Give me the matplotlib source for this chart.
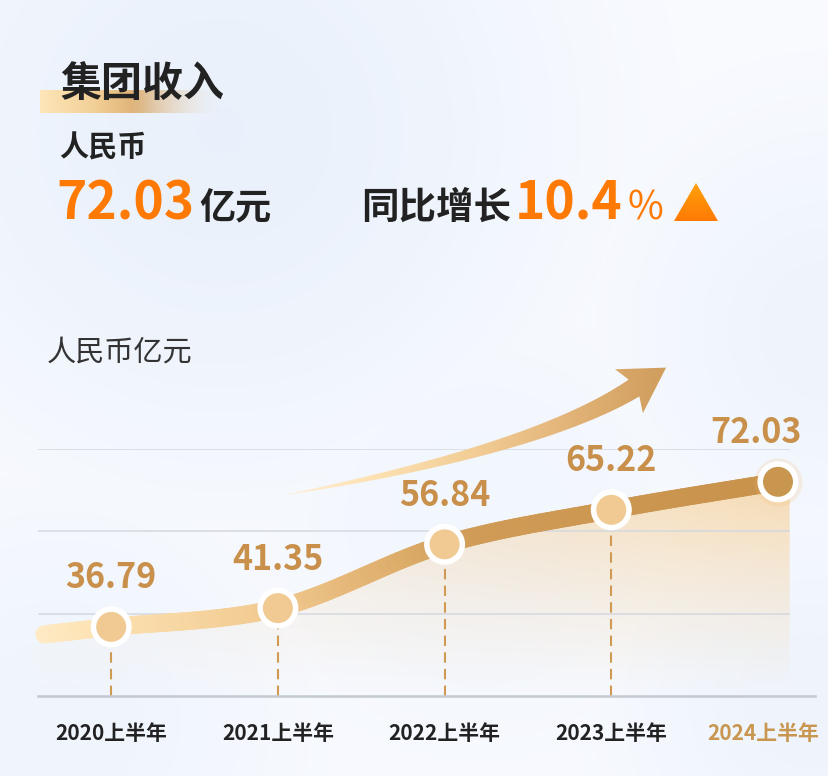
import numpy as np
import matplotlib
matplotlib.use('Agg')
import matplotlib.pyplot as plt
from matplotlib.collections import LineCollection
from matplotlib.colors import LinearSegmentedColormap
from matplotlib.patches import Polygon

plt.rcParams['font.family'] = ['Noto Sans CJK SC', 'DejaVu Sans']

# ---------------- data ----------------
periods = ['2020上半年', '2021上半年', '2022上半年', '2023上半年', '2024上半年']
revenue = [36.79, 41.35, 56.84, 65.22, 72.03]
title = '集团收入'
currency = '人民币'
headline_value = '72.03'
headline_unit = '亿元'
yoy_label = '同比增长'
yoy_value = '10.4'
yoy_unit = '%'
axis_unit = '人民币亿元'
y_grid = [40, 60, 80]
y_base = 20

W, H = 829, 776
fig = plt.figure(figsize=(W / 100, H / 100), dpi=100)


def fx(px):
    return px / W


def fy(py):
    return 1 - py / H


def px2pt(p):
    return p * 72 / 100


# ---------------- background ----------------
bg = fig.add_axes([0, 0, 1, 1], zorder=0)
bg.set_xlim(0, W)
bg.set_ylim(H, 0)
bg.axis('off')
yy, xx = np.mgrid[0:H, 0:W]
tint = np.zeros((H, W))
for cx, cy, r, s in [(220, 130, 250, 0.85), (830, 330, 170, 0.6), (60, 720, 190, 0.55),
                     (810, 700, 160, 0.6), (480, 520, 190, 0.45), (430, 40, 180, 0.35)]:
    tint = np.maximum(tint, s * np.exp(-((xx - cx) ** 2 + (yy - cy) ** 2) / (2 * r * r)))
base_c = np.array([251, 252, 255]) / 255
blue_c = np.array([231, 239, 251]) / 255
bg_img = base_c * (1 - tint[..., None]) + blue_c * tint[..., None]
bg.imshow(bg_img, extent=[0, W, H, 0], aspect='auto', interpolation='bilinear')

# heading accent bar
n = 300
gx = np.linspace(0, 1, n)
bar_cmap = LinearSegmentedColormap.from_list('bar', [(0, '#FDE6B8'), (0.3, '#F2CF96'),
                                                     (0.55, '#DCAF74'), (1, '#E8D2B5')])
bar = bar_cmap(gx)
bar[:, 3] = np.clip(np.where(gx < 0.5, 1.0, 1 - (gx - 0.5) / 0.5), 0, 1) ** 1.3
bg.imshow(bar[None, :, :], extent=[40, 222, 113, 90], aspect='auto', interpolation='bilinear')

# ---------------- header texts ----------------
dark = '#222222'
orange = '#FF7A05'
fig.text(fx(60), fy(97), title, fontsize=29.5, fontweight='bold', color=dark, va='baseline')
fig.text(fx(59), fy(157), currency, fontsize=21, fontweight='bold', color=dark, va='baseline')
fig.text(fx(56), fy(219), headline_value, fontsize=37, fontweight='bold', color=orange, va='baseline')
fig.text(fx(199), fy(219), headline_unit, fontsize=26, fontweight='bold', color=dark, va='baseline')
fig.text(fx(361), fy(219), yoy_label, fontsize=27, fontweight='bold', color=dark, va='baseline')
fig.text(fx(515), fy(219), yoy_value, fontsize=37, fontweight='bold', color=orange, va='baseline')
fig.text(fx(628), fy(220), yoy_unit, fontsize=28, fontweight='medium', color=orange, va='baseline')
fig.text(fx(47), fy(361), axis_unit, fontsize=21, fontweight='regular', color='#333333', va='baseline')

# ---------------- chart ----------------
ax = fig.add_axes([fx(38), fy(696), fx(815) - fx(38), fy(449) - fy(696)], zorder=1)
ax.patch.set_alpha(0)
xs = np.arange(len(revenue), dtype=float)
vals = np.array(revenue)
ax.set_xlim(-0.439, 4.222)
ax.set_ylim(y_base, 80)
for s in ['top', 'right', 'left']:
    ax.spines[s].set_visible(False)
ax.spines['bottom'].set_color('#C6CAD2')
ax.spines['bottom'].set_linewidth(1.9)
ax.set_xticks([])
ax.set_yticks([])


def catmull(px, py, n=40):
    P = np.column_stack([px, py])
    P = np.vstack([2 * P[0] - P[1], P, 2 * P[-1] - P[-2]])
    out = []
    t = np.linspace(0, 1, n, endpoint=False)[:, None]
    for i in range(1, len(P) - 2):
        p0, p1, p2, p3 = P[i - 1], P[i], P[i + 1], P[i + 2]
        seg = 0.5 * ((2 * p1) + (-p0 + p2) * t + (2 * p0 - 5 * p1 + 4 * p2 - p3) * t ** 2
                     + (-p0 + 3 * p1 - 3 * p2 + p3) * t ** 3)
        out.append(seg)
    out.append(P[-2][None, :])
    return np.vstack(out)


lead = 0.40
x_ext = np.concatenate([[xs[0] - lead], xs])
v_ext = np.concatenate([[vals[0] - lead * (vals[1] - vals[0])], vals])
curve = catmull(x_ext, v_ext)

# gradient fill under curve
xl = ax.get_xlim()
x_end = xs[-1] + 0.07
fill_verts = np.vstack([[xl[0], y_base], [xl[0], curve[0, 1]], curve,
                        [x_end, curve[-1, 1]], [x_end, y_base]])
poly = Polygon(fill_verts, closed=True, facecolor='none', edgecolor='none')
ax.add_patch(poly)
gxx, gyy = np.meshgrid(np.linspace(0, 1, 300), np.linspace(0, 1, 300))
fill_img = np.zeros((300, 300, 4))
fill_img[..., :3] = np.array([247, 210, 156]) / 255
fill_img[..., 3] = 0.8 * gyy ** 1.2 * (0.3 + 0.7 * gxx)
im = ax.imshow(fill_img, extent=[xl[0], xl[1], y_base, vals.max()], origin='lower',
               aspect='auto', interpolation='bilinear', zorder=1)
im.set_clip_path(poly)

# grid lines
ax.hlines(y_grid, xl[0], x_end, colors='#D4D8E0', linewidth=1.1, zorder=1.5)

# dashed drop lines
ax.vlines(xs[:-1], y_base, vals[:-1], colors='#D09A52', linewidth=1.5,
          linestyles=(0, (5, 3)), zorder=2)

# gradient thick line
line_cmap = LinearSegmentedColormap.from_list('ln', [(0, '#FFEAC4'), (0.09, '#FCE1B1'),
                                                     (0.32, '#F1C98F'), (0.48, '#DEAE6C'),
                                                     (0.6, '#CF9B56'), (1, '#C8924B')])
segs = np.stack([curve[:-1], curve[1:]], axis=1)
cpos = (curve[:-1, 0] - curve[0, 0]) / (curve[-1, 0] - curve[0, 0])
lc = LineCollection(segs, colors=line_cmap(cpos), linewidths=px2pt(18), zorder=3)
lc.set_capstyle('round')
lc.set_joinstyle('round')
lc.set_clip_on(False)
ax.add_collection(lc)

# markers
mcolors = ['#F0CA92'] * (len(vals) - 1) + ['#C8964F']
ax.scatter(xs[-1:], vals[-1:], s=px2pt(48) ** 2, color='#F3B874', alpha=0.18, zorder=3.5,
           linewidths=0, clip_on=False)
ax.scatter(xs, vals, s=px2pt(35.5) ** 2, c=mcolors, edgecolors='white',
           linewidths=px2pt(5.5), zorder=4, clip_on=False)

# value labels
label_color = '#C8904A'
for i, v in enumerate(vals):
    dx = -22 if i == len(vals) - 1 else 0
    ax.annotate(f'{v:.2f}', xy=(xs[i], v), xytext=(px2pt(dx), px2pt(49)),
                textcoords='offset points', ha='center', va='center',
                fontsize=24.5, fontweight='bold', color=label_color, annotation_clip=False)

# period labels
for i, p in enumerate(periods):
    last = i == len(periods) - 1
    dx = -15 if last else 0
    ax.annotate(p, xy=(xs[i], y_base), xytext=(px2pt(dx), -px2pt(38)),
                textcoords='offset points', ha='center', va='center',
                fontsize=15, fontweight='bold', color='#C8964F' if last else '#222222',
                annotation_clip=False)

# ---------------- overlay decorations (arrow, triangle) ----------------
ov = fig.add_axes([0, 0, 1, 1], zorder=3)
ov.set_xlim(0, W)
ov.set_ylim(H, 0)
ov.axis('off')
ov.patch.set_alpha(0)

P0 = np.array([285.0, 495.0])
P1 = np.array([538.0, 449.0])
P2 = np.array([634.0, 388.0])
t = np.linspace(0, 1, 150)[:, None]
B = (1 - t) ** 2 * P0 + 2 * (1 - t) * t * P1 + t ** 2 * P2
dB = 2 * (1 - t) * (P1 - P0) + 2 * t * (P2 - P1)
Tn = dB / np.linalg.norm(dB, axis=1, keepdims=True)
Nn = np.column_stack([Tn[:, 1], -Tn[:, 0]])
hw = 10.0 * t ** 0.8
upper = B + Nn * hw
lower = B - Nn * hw
Te, Ne = Tn[-1], Nn[-1]
bm = P2 - 2 * Te
tip = bm + 40 * Te
barb_u = bm - 4 * Te + 26 * Ne
barb_l = bm - 4 * Te - 26 * Ne
arrow_verts = np.vstack([upper, barb_u, tip, barb_l, lower[::-1]])
arrow_poly = Polygon(arrow_verts, closed=True, facecolor='none', edgecolor='none')
ov.add_patch(arrow_poly)
arr_cmap = LinearSegmentedColormap.from_list('ar', [(0, '#FFF0D8'), (0.22, '#FDE2B3'),
                                                    (0.48, '#F3CE97'), (0.75, '#E2B377'),
                                                    (1, '#CF9D5C')])
ag = arr_cmap(np.linspace(0, 1, 400))
aim = ov.imshow(ag[None, :, :], extent=[285, 668, 500, 355], aspect='auto',
                interpolation='bilinear')
aim.set_clip_path(arrow_poly)

# triangle icon
tri = Polygon([[674, 221], [718, 221], [696, 183]], closed=True, facecolor='none',
              edgecolor='none')
ov.add_patch(tri)
tri_cmap = LinearSegmentedColormap.from_list('tri', ['#FFA10A', '#FF7A05'])
tg = tri_cmap(np.linspace(0, 1, 100))[:, None, :]
tim = ov.imshow(tg, extent=[674, 718, 221, 183], aspect='auto', interpolation='bilinear')
tim.set_clip_path(tri)

fig.savefig('out.png', dpi=100)
